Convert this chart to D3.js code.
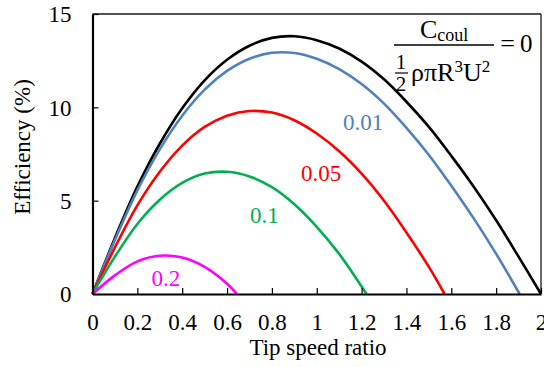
<!DOCTYPE html>
<html><head><meta charset="utf-8">
<script src="https://cdn.jsdelivr.net/npm/d3@7"></script>
<style>
body{margin:0;background:#fff}
svg{display:block}
text{font-family:"Liberation Serif","Times New Roman",serif}
</style>
</head><body>
<svg id="chart" width="544" height="367"></svg>
<script>
// ---- data ----
const tsrC0   = [0,0.1,0.2,0.3,0.4,0.5,0.6,0.7,0.8,0.9,1.0,1.1,1.2,1.3,1.4,1.5,1.6,1.7,1.8,1.9,2.0];
const effC0   = [0,3.0,5.75,8.05,9.95,11.45,12.55,13.3,13.72,13.81,13.6,13.15,12.45,11.5,10.3,8.95,7.4,5.75,3.95,2.0,0];
const tsrC001 = [0,0.1,0.2,0.3,0.4,0.5,0.6,0.7,0.8,0.9,1.0,1.1,1.2,1.3,1.4,1.5,1.6,1.7,1.8,1.905];
const effC001 = [0,2.9,5.55,7.75,9.55,10.95,11.95,12.6,12.92,12.91,12.6,12.05,11.25,10.2,8.9,7.45,5.8,4.05,2.15,0];
const tsrC005 = [0,0.1,0.2,0.3,0.4,0.5,0.6,0.7,0.8,0.9,1.0,1.1,1.2,1.3,1.4,1.5,1.57];
const effC005 = [0,2.5,4.75,6.55,7.95,8.95,9.55,9.8,9.72,9.31,8.6,7.65,6.45,5.0,3.3,1.45,0];
const tsrC01  = [0,0.1,0.2,0.3,0.4,0.5,0.6,0.7,0.8,0.9,1.0,1.1,1.222];
const effC01  = [0,2.0,3.75,5.05,5.95,6.45,6.55,6.3,5.72,4.81,3.6,2.15,0];
const tsrC02  = [0,0.1,0.2,0.3,0.4,0.5,0.6,0.644];
const effC02  = [0,1.0,1.75,2.05,1.95,1.45,0.55,0];

const seriesNames  = ["0","0.01","0.05","0.1","0.2"];
const xTickValues  = [0,0.2,0.4,0.6,0.8,1,1.2,1.4,1.6,1.8,2];
const xTickLabels  = ["0","0.2","0.4","0.6","0.8","1","1.2","1.4","1.6","1.8","2"];
const yTickValues  = [0,5,10,15];
const yTickLabels  = ["0","5","10","15"];
const xTitle = "Tip speed ratio";
const yTitle = "Efficiency (%)";

// ---- styling / layout ----
const colors = {"0":"#000000","0.01":"#4F81BD","0.05":"#FF0000","0.1":"#00B050","0.2":"#FF00FF"};
const labelPos = {"0.01":[1.207,8.78],"0.05":[1.019,6.07],"0.1":[0.766,3.80],"0.2":[0.327,0.44]};
const plot = {left:92.5, right:541, top:14, bottom:294};
const serif = "'Liberation Serif','Times New Roman',serif";

const svg = d3.select("#chart");
const x = d3.scaleLinear().domain([0,2]).range([plot.left, plot.right]);
const y = d3.scaleLinear().domain([0,15]).range([plot.bottom, plot.top]);

const series = [
  {name:"0",    xs:tsrC0,   ys:effC0},
  {name:"0.01", xs:tsrC001, ys:effC001},
  {name:"0.05", xs:tsrC005, ys:effC005},
  {name:"0.1",  xs:tsrC01,  ys:effC01},
  {name:"0.2",  xs:tsrC02,  ys:effC02}
];

// top/right frame
svg.append("line").attr("x1",plot.left).attr("x2",plot.right).attr("y1",plot.top).attr("y2",plot.top)
  .attr("stroke","#1a1a1a").attr("stroke-width",1.3);
svg.append("line").attr("x1",plot.right).attr("x2",plot.right).attr("y1",plot.top).attr("y2",plot.bottom)
  .attr("stroke","#1a1a1a").attr("stroke-width",1.3);

// curves
const line = d3.line().x(d=>x(d[0])).y(d=>y(d[1])).curve(d3.curveCatmullRom.alpha(0.5));
series.forEach(s=>{
  const pts = s.xs.map((v,i)=>[v, s.ys[i]]);
  svg.append("path").datum(pts).attr("d",line).attr("fill","none")
    .attr("stroke",colors[s.name]).attr("stroke-width",2.6).attr("stroke-linejoin","round");
});

// axes
const xAxis = d3.axisBottom(x).tickValues(xTickValues)
  .tickFormat((d,i)=>xTickLabels[i]).tickSizeInner(-6).tickSizeOuter(0);
const gx = svg.append("g").attr("transform",`translate(0,${plot.bottom})`).call(xAxis)
  .attr("font-family",serif).attr("font-size",23);
gx.select(".domain").attr("stroke","#000").attr("stroke-width",2.2);
gx.selectAll(".tick line").attr("stroke","#000").attr("stroke-width",1.2);
gx.selectAll(".tick text").attr("y",36).attr("dy",null).style("fill","#000");

const yAxis = d3.axisLeft(y).tickValues(yTickValues)
  .tickFormat((d,i)=>yTickLabels[i]).tickSizeInner(-6).tickSizeOuter(0).tickPadding(21);
const gy = svg.append("g").attr("transform",`translate(${plot.left},0)`).call(yAxis)
  .attr("font-family",serif).attr("font-size",23);
gy.select(".domain").attr("stroke","#000").attr("stroke-width",2.2);
gy.selectAll(".tick line").attr("stroke","#000").attr("stroke-width",1.2);
gy.selectAll(".tick text").attr("dy","0.34em").style("fill","#000");

// axis titles
svg.append("text").attr("x",318).attr("y",355).attr("text-anchor","middle")
  .style("font-size","23px").style("fill","#000").text(xTitle);
svg.append("text").attr("transform",`translate(30,147) rotate(-90)`)
  .attr("text-anchor","middle").style("font-size","23px").style("fill","#000").text(yTitle);

// curve labels
Object.keys(labelPos).forEach(k=>{
  svg.append("text").attr("x",x(labelPos[k][0])).attr("y",y(labelPos[k][1]))
    .attr("text-anchor","middle").style("font-size","23px").style("fill",colors[k]).text(k);
});

// formula  C_coul / (1/2 rho pi R^3 U^2) = 0
const f = svg.append("g").style("fill","#000");
const num = f.append("text").attr("x",420).attr("y",38);
num.append("tspan").style("font-size","26px").text("C");
num.append("tspan").style("font-size","18px").attr("dy",3).text("coul");
f.append("line").attr("x1",394).attr("x2",494).attr("y1",45).attr("y2",45).attr("stroke","#000").attr("stroke-width",1.5);
f.append("text").attr("x",507.5).attr("y",51.5).attr("text-anchor","middle").style("font-size","26px").text("=");
f.append("text").attr("x",520).attr("y",52).style("font-size","25px").text("0");
f.append("text").attr("x",401).attr("y",69).attr("text-anchor","middle").style("font-size","21px").text("1");
f.append("line").attr("x1",395).attr("x2",408).attr("y1",73).attr("y2",73).attr("stroke","#000").attr("stroke-width",1.2);
f.append("text").attr("x",401).attr("y",91).attr("text-anchor","middle").style("font-size","21px").text("2");
const den = f.append("text").attr("x",411).attr("y",80.5);
den.append("tspan").style("font-size","26px").text("ρπR");
den.append("tspan").style("font-size","17px").attr("dy",-9).text("3");
den.append("tspan").style("font-size","26px").attr("dy",9).text("U");
den.append("tspan").style("font-size","17px").attr("dy",-9).text("2");
</script>
</body></html>
